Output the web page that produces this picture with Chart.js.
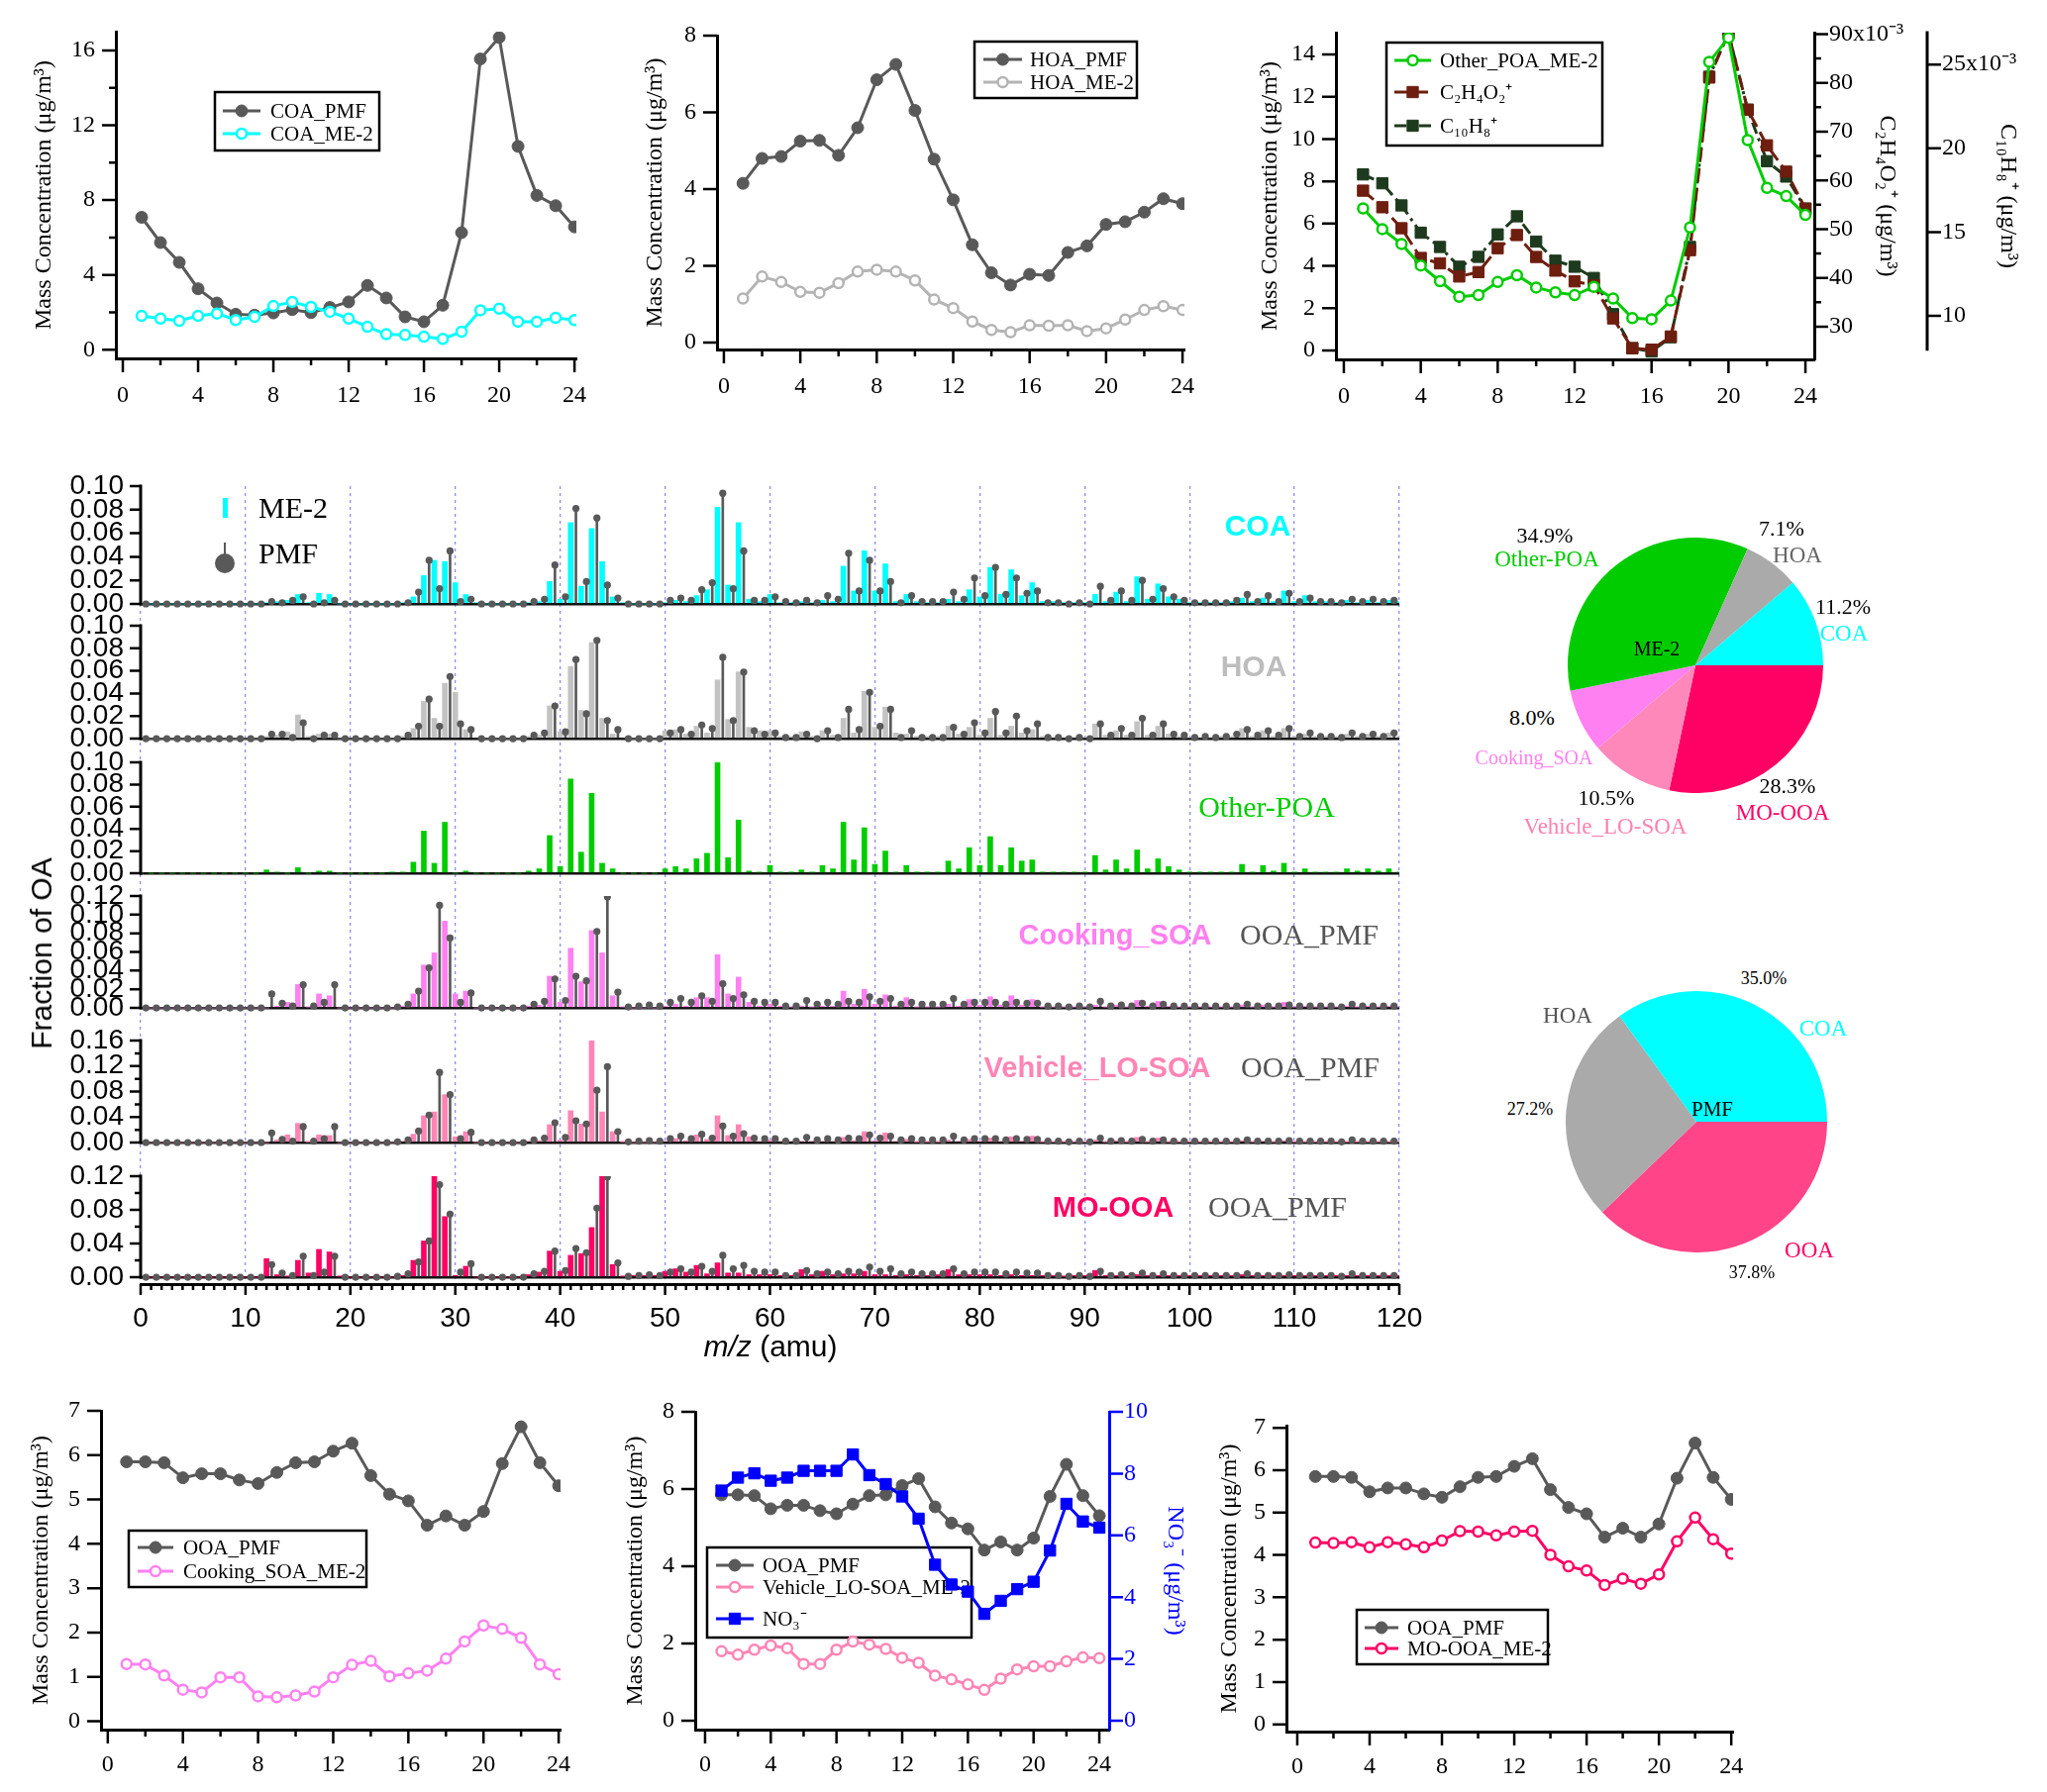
<!DOCTYPE html>
<html>
<head>
<meta charset="utf-8">
<title>OA factors: diurnal cycles, mass spectra and contributions</title>
<script src="https://cdn.jsdelivr.net/npm/chart.js@4.4.1/dist/chart.umd.min.js"></script>
<style>
  html, body { margin: 0; padding: 0; background: #fff; }
  body { position: relative; width: 2067px; height: 1810px; overflow: hidden; }
  canvas { position: absolute; }
  .note { position: absolute; transform: translate(-50%, -50%); white-space: nowrap; line-height: 1; }
  .swatch { position: absolute; }
</style>
</head>
<body>
<script>
// ---------- diurnal data (hour of day) ----------
const HOURS = [1, 2, 3, 4, 5, 6, 7, 8, 9, 10, 11, 12, 13, 14, 15, 16, 17, 18, 19, 20, 21, 22, 23, 24];
const HOUR_TICKS = [0, 4, 8, 12, 16, 20, 24];
const HOUR_MINOR = [2, 6, 10, 14, 18, 22];

const COA_PMF_DIURNAL = [7.08, 5.73, 4.67, 3.26, 2.50, 1.90, 1.85, 1.97, 2.15, 1.99, 2.26, 2.56, 3.44, 2.77, 1.76, 1.50, 2.38, 6.26, 15.54, 16.69, 10.87, 8.25, 7.70, 6.57];
const COA_ME2_DIURNAL = [1.81, 1.67, 1.55, 1.81, 1.94, 1.59, 1.76, 2.34, 2.56, 2.29, 2.03, 1.67, 1.23, 0.83, 0.79, 0.70, 0.58, 0.97, 2.11, 2.20, 1.50, 1.50, 1.71, 1.59];
const HOA_PMF_DIURNAL = [4.15, 4.80, 4.85, 5.25, 5.27, 4.88, 5.60, 6.85, 7.25, 6.05, 4.78, 3.72, 2.55, 1.82, 1.50, 1.78, 1.75, 2.35, 2.52, 3.08, 3.15, 3.40, 3.75, 3.62];
const HOA_ME2_DIURNAL = [1.15, 1.72, 1.58, 1.32, 1.30, 1.55, 1.85, 1.90, 1.85, 1.62, 1.12, 0.90, 0.55, 0.33, 0.27, 0.45, 0.44, 0.45, 0.30, 0.37, 0.60, 0.85, 0.95, 0.85];
const OTHER_POA_DIURNAL = [6.72, 5.74, 5.04, 4.02, 3.28, 2.54, 2.62, 3.24, 3.56, 2.98, 2.75, 2.62, 3.01, 2.46, 1.53, 1.48, 2.36, 5.82, 13.65, 14.79, 9.95, 7.69, 7.30, 6.41];
const C2H4O2_DIURNAL = [0.0579, 0.0545, 0.0502, 0.0441, 0.0430, 0.0403, 0.0412, 0.0461, 0.0488, 0.0443, 0.0415, 0.0393, 0.0385, 0.0317, 0.0256, 0.0253, 0.0280, 0.0457, 0.0811, 0.0902, 0.0745, 0.0672, 0.0618, 0.0542];
const C10H8_DIURNAL = [0.01844, 0.01791, 0.01659, 0.01496, 0.01411, 0.01293, 0.01352, 0.01486, 0.01594, 0.01443, 0.01329, 0.01293, 0.01226, 0.01010, 0.00807, 0.00787, 0.00872, 0.01411, 0.02427, 0.02687, 0.02230, 0.01923, 0.01831, 0.01640];
const OOA_PMF_DIURNAL = [5.85, 5.85, 5.83, 5.49, 5.58, 5.58, 5.44, 5.36, 5.61, 5.83, 5.85, 6.09, 6.27, 5.54, 5.12, 4.97, 4.42, 4.63, 4.42, 4.73, 5.81, 6.64, 5.83, 5.31];
const COOKING_SOA_DIURNAL = [1.29, 1.28, 1.03, 0.71, 0.65, 0.99, 0.99, 0.56, 0.54, 0.58, 0.67, 0.99, 1.27, 1.36, 1.01, 1.08, 1.14, 1.41, 1.80, 2.16, 2.08, 1.88, 1.28, 1.06];
const VEHICLE_SOA_DIURNAL = [1.80, 1.71, 1.84, 1.95, 1.88, 1.47, 1.47, 1.84, 2.05, 1.97, 1.86, 1.63, 1.50, 1.17, 1.07, 0.94, 0.80, 1.09, 1.33, 1.41, 1.41, 1.54, 1.64, 1.62];
const NO3_DIURNAL = [7.45, 7.87, 8.01, 7.77, 7.87, 8.09, 8.09, 8.09, 8.62, 7.95, 7.66, 7.26, 6.54, 5.05, 4.41, 4.18, 3.46, 3.88, 4.26, 4.50, 5.51, 7.02, 6.45, 6.25];
const MO_OOA_DIURNAL = [4.29, 4.28, 4.30, 4.18, 4.30, 4.25, 4.18, 4.34, 4.56, 4.55, 4.46, 4.55, 4.57, 4.00, 3.73, 3.63, 3.29, 3.44, 3.32, 3.54, 4.32, 4.88, 4.37, 4.03];

// ---------- mass spectra (m/z 0..120) ----------
const MZ = [0, 1, 2, 3, 4, 5, 6, 7, 8, 9, 10, 11, 12, 13, 14, 15, 16, 17, 18, 19, 20, 21, 22, 23, 24, 25, 26, 27, 28, 29,
  30, 31, 32, 33, 34, 35, 36, 37, 38, 39, 40, 41, 42, 43, 44, 45, 46, 47, 48, 49, 50, 51, 52, 53, 54, 55, 56, 57, 58, 59,
  60, 61, 62, 63, 64, 65, 66, 67, 68, 69, 70, 71, 72, 73, 74, 75, 76, 77, 78, 79, 80, 81, 82, 83, 84, 85, 86, 87, 88, 89,
  90, 91, 92, 93, 94, 95, 96, 97, 98, 99, 100, 101, 102, 103, 104, 105, 106, 107, 108, 109, 110, 111, 112, 113, 114, 115, 116, 117, 118, 119, 120];
const MZ_TICKS = [0, 10, 20, 30, 40, 50, 60, 70, 80, 90, 100, 110, 120];
const PMF_MZ = MZ.slice(0, 120);   // PMF sticks, drawn half a unit right of the ME-2 bars

const COA_ME2 = [0, 0, 0, 0, 0, 0, 0, 0, 0, 0,
  0, 0, 0.001, 0.002, 0.003, 0.008, 0.001, 0.009, 0.008, 0,
  0, 0, 0, 0, 0, 0.001, 0.006, 0.024, 0.037, 0.036,
  0.018, 0.008, 0.001, 0, 0, 0, 0, 0.001, 0.002, 0.019,
  0.004, 0.069, 0.015, 0.064, 0.036, 0.006, 0.001, 0, 0, 0,
  0.001, 0.003, 0.002, 0.007, 0.012, 0.082, 0.016, 0.069, 0.004, 0.002,
  0.008, 0.001, 0.001, 0.002, 0.001, 0.003, 0.002, 0.032, 0.011, 0.045,
  0.011, 0.034, 0.002, 0.008, 0.002, 0.001, 0.001, 0.004, 0.002, 0.012,
  0.006, 0.031, 0.008, 0.029, 0.007, 0.018, 0.002, 0.002, 0.001, 0.001,
  0.001, 0.008, 0.002, 0.010, 0.002, 0.023, 0.004, 0.017, 0.006, 0.004,
  0.001, 0.001, 0.001, 0.001, 0.002, 0.005, 0.002, 0.005, 0.002, 0.011,
  0.002, 0.007, 0.002, 0.002, 0.001, 0.003, 0.001, 0.003, 0.001, 0.003, 0.002];
const COA_PMF = [0, 0, 0, 0, 0, 0, 0, 0, 0, 0,
  0, 0, 0.002, 0.001, 0.003, 0.006, 0, 0.001, 0.003, 0,
  0, 0, 0, 0, 0, 0.001, 0.010, 0.037, 0.013, 0.045,
  0.002, 0.004, 0, 0, 0, 0, 0, 0.002, 0.004, 0.033,
  0.006, 0.081, 0.019, 0.073, 0.016, 0.005, 0, 0, 0, 0,
  0.003, 0.005, 0.003, 0.012, 0.018, 0.094, 0.013, 0.045, 0.003, 0.003,
  0.006, 0.002, 0.001, 0.003, 0.001, 0.007, 0.004, 0.043, 0.011, 0.037,
  0.011, 0.019, 0.001, 0.007, 0.002, 0.002, 0.002, 0.010, 0.004, 0.022,
  0.007, 0.031, 0.008, 0.022, 0.009, 0.011, 0.001, 0.001, 0, 0.001,
  0, 0.015, 0.003, 0.011, 0.003, 0.020, 0.004, 0.013, 0.006, 0.003,
  0.001, 0.001, 0.001, 0.001, 0.003, 0.008, 0.002, 0.007, 0.002, 0.009,
  0.002, 0.005, 0.002, 0.002, 0.001, 0.004, 0.002, 0.004, 0.002, 0.003];
const HOA_ME2 = [0, 0, 0, 0, 0, 0, 0, 0, 0, 0,
  0, 0, 0.002, 0.003, 0.006, 0.021, 0.002, 0.004, 0.004, 0,
  0, 0, 0, 0, 0, 0.002, 0.009, 0.033, 0.018, 0.049,
  0.041, 0.008, 0.001, 0, 0, 0, 0, 0.002, 0.003, 0.029,
  0.006, 0.064, 0.025, 0.085, 0.018, 0.004, 0.001, 0, 0, 0,
  0.007, 0.008, 0.004, 0.011, 0.005, 0.052, 0.017, 0.059, 0.010, 0.007,
  0.007, 0.002, 0.002, 0.006, 0.002, 0.007, 0.003, 0.018, 0.005, 0.042,
  0.010, 0.028, 0.005, 0.004, 0.002, 0.002, 0.002, 0.011, 0.004, 0.010,
  0.003, 0.018, 0.003, 0.011, 0.005, 0.008, 0.002, 0.001, 0.001, 0.001,
  0.001, 0.013, 0.003, 0.007, 0.003, 0.015, 0.003, 0.011, 0.004, 0.002,
  0.001, 0.001, 0.001, 0.002, 0.002, 0.009, 0.002, 0.007, 0.002, 0.009,
  0.002, 0.004, 0.002, 0.002, 0.002, 0.004, 0.002, 0.004, 0.002, 0.005, 0.002];
const HOA_PMF = [0, 0, 0, 0, 0, 0, 0, 0, 0, 0,
  0, 0, 0.004, 0.004, 0.001, 0.014, 0, 0.003, 0.003, 0,
  0, 0, 0, 0, 0, 0.003, 0.011, 0.035, 0.011, 0.055,
  0.013, 0.008, 0, 0, 0, 0, 0, 0.003, 0.005, 0.029,
  0.006, 0.070, 0.022, 0.087, 0.016, 0.008, 0, 0, 0, 0,
  0.005, 0.008, 0.004, 0.012, 0.009, 0.072, 0.016, 0.059, 0.007, 0.004,
  0.005, 0.001, 0.001, 0.004, 0, 0.007, 0.001, 0.026, 0.008, 0.041,
  0.011, 0.026, 0.001, 0.007, 0.001, 0.001, 0.001, 0.010, 0.004, 0.014,
  0.005, 0.024, 0.005, 0.020, 0.007, 0.013, 0.001, 0.001, 0, 0.001,
  0, 0.013, 0.003, 0.009, 0.003, 0.018, 0.003, 0.013, 0.004, 0.003,
  0.001, 0.002, 0.001, 0.002, 0.004, 0.008, 0.003, 0.007, 0.003, 0.009,
  0.002, 0.005, 0.002, 0.002, 0.001, 0.005, 0.002, 0.004, 0.002, 0.005];
const OTHER_POA_ME2 = [0, 0, 0, 0, 0, 0, 0, 0, 0, 0,
  0, 0, 0.003, 0.001, 0, 0.005, 0, 0.002, 0.002, 0,
  0, 0, 0, 0, 0.001, 0.001, 0.010, 0.038, 0.009, 0.046,
  0, 0.002, 0, 0, 0, 0, 0, 0.002, 0.004, 0.034,
  0.006, 0.085, 0.019, 0.072, 0.009, 0.004, 0, 0, 0, 0,
  0.004, 0.006, 0.004, 0.013, 0.018, 0.100, 0.014, 0.048, 0.002, 0.001,
  0.007, 0.001, 0.001, 0.003, 0.001, 0.007, 0.004, 0.046, 0.012, 0.041,
  0.008, 0.020, 0.001, 0.007, 0.001, 0.001, 0.001, 0.011, 0.004, 0.023,
  0.007, 0.033, 0.007, 0.023, 0.011, 0.012, 0.001, 0.001, 0.001, 0.001,
  0.001, 0.016, 0.003, 0.012, 0.004, 0.021, 0.004, 0.013, 0.006, 0.003,
  0.001, 0.001, 0.001, 0.001, 0.001, 0.008, 0.001, 0.007, 0.002, 0.009,
  0.001, 0.004, 0.001, 0.001, 0.001, 0.004, 0.002, 0.004, 0.002, 0.004, 0.001];
const OOA_PMF = [0, 0, 0, 0, 0, 0, 0, 0, 0, 0,
  0, 0, 0.015, 0.005, 0.002, 0.025, 0.002, 0.006, 0.025, 0,
  0, 0, 0, 0, 0.001, 0.004, 0.018, 0.043, 0.110, 0.075,
  0.006, 0.016, 0, 0, 0, 0, 0, 0.004, 0.007, 0.031,
  0.008, 0.034, 0.029, 0.082, 0.119, 0.017, 0.001, 0.002, 0.003, 0.002,
  0.006, 0.010, 0.006, 0.013, 0.007, 0.026, 0.010, 0.014, 0.007, 0.006,
  0.006, 0.002, 0.002, 0.008, 0.004, 0.006, 0.004, 0.007, 0.006, 0.012,
  0.007, 0.010, 0.004, 0.006, 0.004, 0.004, 0.004, 0.010, 0.004, 0.006,
  0.006, 0.006, 0.004, 0.006, 0.005, 0.005, 0.002, 0.002, 0.001, 0.002,
  0.001, 0.007, 0.002, 0.003, 0.002, 0.005, 0.002, 0.004, 0.002, 0.002,
  0.002, 0.002, 0.002, 0.002, 0.002, 0.004, 0.002, 0.002, 0.002, 0.003,
  0.002, 0.002, 0.002, 0.002, 0.001, 0.004, 0.002, 0.002, 0.002, 0.002];
const COOKING_SOA_ME2 = [0, 0, 0, 0, 0, 0, 0, 0, 0, 0,
  0, 0, 0, 0.002, 0.006, 0.025, 0.001, 0.015, 0.013, 0,
  0, 0, 0, 0, 0, 0.002, 0.015, 0.046, 0.059, 0.093,
  0.015, 0.018, 0, 0, 0, 0, 0, 0.002, 0.003, 0.034,
  0.006, 0.064, 0.028, 0.083, 0.059, 0.013, 0.001, 0, 0, 0,
  0.002, 0.004, 0.002, 0.011, 0.011, 0.057, 0.015, 0.033, 0.006, 0.002,
  0.004, 0.002, 0.001, 0.002, 0.001, 0.002, 0.002, 0.018, 0.004, 0.020,
  0.004, 0.014, 0.002, 0.011, 0.001, 0.001, 0.001, 0.004, 0.002, 0.009,
  0.003, 0.012, 0.003, 0.013, 0.003, 0.009, 0.001, 0.001, 0.001, 0.001,
  0.001, 0.003, 0.001, 0.003, 0.001, 0.008, 0.002, 0.007, 0.002, 0.001,
  0.001, 0.001, 0.001, 0.001, 0.001, 0.003, 0.001, 0.003, 0.001, 0.006,
  0.001, 0.002, 0.001, 0.001, 0.001, 0.002, 0.001, 0.002, 0.001, 0.002, 0.001];
const VEHICLE_SOA_ME2 = [0, 0, 0, 0, 0, 0, 0, 0, 0, 0,
  0, 0, 0, 0.004, 0.012, 0.030, 0.001, 0.012, 0.011, 0,
  0, 0, 0, 0, 0, 0.002, 0.013, 0.042, 0.048, 0.075,
  0.009, 0.017, 0, 0, 0, 0, 0, 0.002, 0.003, 0.028,
  0.004, 0.050, 0.029, 0.173, 0.048, 0.017, 0.001, 0, 0, 0,
  0.002, 0.006, 0.003, 0.012, 0.005, 0.042, 0.011, 0.028, 0.009, 0.002,
  0.004, 0.002, 0.002, 0.002, 0.002, 0.002, 0.002, 0.008, 0.003, 0.017,
  0.003, 0.015, 0.002, 0.005, 0.001, 0.001, 0.001, 0.004, 0.002, 0.005,
  0.002, 0.007, 0.002, 0.009, 0.002, 0.010, 0.001, 0.001, 0.001, 0.001,
  0.001, 0.004, 0.001, 0.003, 0.001, 0.008, 0.001, 0.007, 0.001, 0.001,
  0.001, 0.001, 0.001, 0.001, 0.001, 0.003, 0.001, 0.002, 0.001, 0.003,
  0.001, 0.001, 0.001, 0.001, 0.001, 0.001, 0.001, 0.001, 0.001, 0.001, 0.001];
const MO_OOA_ME2 = [0, 0, 0, 0, 0, 0, 0, 0, 0, 0,
  0, 0, 0.022, 0.003, 0.001, 0.020, 0.005, 0.033, 0.030, 0.001,
  0, 0, 0, 0, 0, 0.002, 0.020, 0.043, 0.132, 0.072,
  0.002, 0.013, 0, 0, 0, 0, 0, 0.003, 0.006, 0.031,
  0.007, 0.026, 0.028, 0.059, 0.132, 0.015, 0.001, 0.002, 0.002, 0.002,
  0.007, 0.010, 0.006, 0.014, 0.004, 0.017, 0.005, 0.005, 0.003, 0.003,
  0.003, 0.002, 0.002, 0.009, 0.003, 0.007, 0.003, 0.004, 0.004, 0.007,
  0.003, 0.003, 0.002, 0.003, 0.002, 0.002, 0.003, 0.009, 0.003, 0.003,
  0.003, 0.003, 0.002, 0.003, 0.002, 0.002, 0.002, 0.002, 0.001, 0.002,
  0.002, 0.008, 0.002, 0.002, 0.002, 0.003, 0.002, 0.002, 0.002, 0.002,
  0.002, 0.002, 0.002, 0.002, 0.002, 0.003, 0.002, 0.002, 0.002, 0.002,
  0.002, 0.002, 0.002, 0.002, 0.002, 0.002, 0.002, 0.002, 0.002, 0.002, 0.002];

// ---------- contributions (%) ----------
const ME2_PIE_LABELS = ['COA', 'HOA', 'Other-POA', 'Cooking_SOA', 'Vehicle_LO-SOA', 'MO-OOA'];
const ME2_PIE_VALUES = [11.2, 7.1, 34.9, 8.0, 10.5, 28.3];
const PMF_PIE_LABELS = ['COA', 'HOA', 'OOA'];
const PMF_PIE_VALUES = [35.0, 27.2, 37.8];

// ---------- styling ----------
const SERIF = '"Liberation Serif", "Times New Roman", serif';
const SANS = '"Liberation Sans", Arial, sans-serif';
const GREY = '#595959';
const C_COA = '#00ffff', C_HOA = '#b4b4b4', C_OTHER = '#00cc00', C_COOK = '#ff80f0',
      C_VEH = '#ff85b5', C_MO = '#ff0064', C_OOA = '#ff4488', C_NO3 = '#0000ff';
const MC_TITLE = 'Mass Concentration (\u03bcg/m\u00b3)';
const PMF_OFFSET = 0.5;

Chart.defaults.font.family = SERIF;
Chart.defaults.animation = false;
Chart.defaults.events = [];
Chart.defaults.plugins.legend.display = false;
Chart.defaults.plugins.tooltip.enabled = false;

// tick marks (major / minor) and optional axis spine, drawn from the scales
const axisMarks = {
  id: 'axisMarks',
  afterDatasetsDraw(chart, args, opts) {
    const ctx = chart.ctx;
    (opts.list || []).forEach(a => {
      const s = chart.scales[a.id];
      if (!s) return;
      ctx.save();
      ctx.strokeStyle = a.color || '#000';
      if (a.spine) {
        const x = s.position === 'left' ? s.right : s.left;
        ctx.lineWidth = 3;
        ctx.beginPath();
        ctx.moveTo(x, s.getPixelForValue(a.spine[0]) + 1.5);
        ctx.lineTo(x, s.getPixelForValue(a.spine[1]) - 1.5);
        ctx.stroke();
      }
      ctx.lineWidth = 2.5;
      ctx.beginPath();
      const mark = (v, len) => {
        const p = s.getPixelForValue(v);
        if (s.position === 'bottom') { ctx.moveTo(p, s.top); ctx.lineTo(p, s.top + len); }
        else if (s.position === 'left') { ctx.moveTo(s.right, p); ctx.lineTo(s.right - len, p); }
        else { ctx.moveTo(s.left, p); ctx.lineTo(s.left + len, p); }
      };
      (a.major || []).forEach(v => mark(v, a.long || 14));
      (a.minor || []).forEach(v => mark(v, a.short || 7));
      ctx.stroke();
      ctx.restore();
    });
  }
};

function marker(ctx, style, r, x, y) {
  ctx.beginPath();
  if (style === 'rect') { const h = r * Math.SQRT1_2; ctx.rect(x - h, y - h, 2 * h, 2 * h); }
  else ctx.arc(x, y, r, 0, Math.PI * 2);
  ctx.fill();
  ctx.stroke();
}

// boxed legend with line + marker samples taken from the datasets
const boxLegend = {
  id: 'boxLegend',
  beforeDatasetsDraw(chart, args, o) {
    if (!o.box) return;
    const ctx = chart.ctx, ox = o.origin[0], oy = o.origin[1];
    ctx.save();
    ctx.strokeStyle = '#000';
    ctx.lineWidth = 2.5;
    ctx.strokeRect(o.box[0] - ox, o.box[1] - oy, o.box[2] - o.box[0], o.box[3] - o.box[1]);
    ctx.font = '21px ' + SERIF;
    ctx.textBaseline = 'middle';
    chart.data.datasets.forEach((ds, i) => {
      const y = o.rows[i] - oy, x0 = o.sample[0] - ox, x1 = o.sample[1] - ox;
      ctx.setLineDash(ds.borderDash || []);
      ctx.strokeStyle = ds.borderColor;
      ctx.lineWidth = ds.borderWidth;
      ctx.beginPath(); ctx.moveTo(x0, y); ctx.lineTo(x1, y); ctx.stroke();
      ctx.setLineDash([]);
      ctx.fillStyle = ds.pointBackgroundColor;
      ctx.strokeStyle = ds.pointBorderColor;
      ctx.lineWidth = ds.pointBorderWidth;
      marker(ctx, ds.pointStyle, ds.pointRadius, (x0 + x1) / 2, y);
      ctx.fillStyle = '#000';
      ctx.fillText(ds.label, o.text - ox, y + 1);
    });
    ctx.restore();
  }
};
Chart.register(axisMarks, boxLegend);

function addCanvas(left, top, width, height) {
  const c = document.createElement('canvas');
  c.width = width; c.height = height;
  c.style.left = left + 'px'; c.style.top = top + 'px';
  c.style.width = width + 'px'; c.style.height = height + 'px';
  document.body.appendChild(c);
  return c;
}

// ---------- diurnal panels ----------
const filled = c => ({borderColor: c, pointBackgroundColor: c, pointBorderColor: c, pointRadius: 6, pointBorderWidth: 1, pointStyle: 'circle'});
const open = c => ({borderColor: c, pointBackgroundColor: '#fff', pointBorderColor: c, pointRadius: 5, pointBorderWidth: 2.5, pointStyle: 'circle'});
const square = (c, dash) => ({borderColor: c, pointBackgroundColor: c, pointBorderColor: c, pointRadius: 8, pointBorderWidth: 1, pointStyle: 'rect', borderDash: dash});

function line(label, values, style, order, axis) {
  return Object.assign({
    type: 'line', label, order, yAxisID: axis || 'y', borderWidth: 3, tension: 0, fill: false,
    data: HOURS.map((h, i) => ({x: h, y: values[i]}))
  }, style);
}

function yScale(a, position, width, weight) {
  const color = a.color || '#000';
  return {
    type: 'linear', position, weight, min: a.min, max: a.max,
    afterBuildTicks: s => { s.ticks = a.ticks.map(v => ({value: v})); },
    afterFit: s => { s.width = width; },
    grid: {display: false, drawTicks: false},
    border: {display: !a.spine, color, width: 3},
    ticks: {autoSkip: false, padding: a.pad || 21, color, font: {family: SERIF, size: 24}, callback: a.fmt || (v => String(v))},
    title: {display: true, text: a.title, color, font: {family: SERIF, size: 24}, padding: {top: a.titlePad || 0, bottom: 0}}
  };
}

function timeChart(cfg) {
  // top / right margins leave room for Chart.js's label overflow padding
  const p = cfg.plot, mt = 40, mb = 58, mr = 40;
  const rights = cfg.right || [];
  const rw = rights.reduce((s, r) => s + r.width, 0);
  const left = p.l - cfg.ml, top = p.t - mt;
  const canvas = addCanvas(left, top, p.r + (rw || mr) - left, p.b + mb - top);
  const scales = {
    x: {
      type: 'linear', position: 'bottom', min: cfg.x[0], max: cfg.x[1], offset: false,
      afterBuildTicks: s => { s.ticks = HOUR_TICKS.map(v => ({value: v})); },
      afterFit: s => { s.height = mb; },
      grid: {display: false, drawTicks: false},
      border: {display: true, color: '#000', width: 3},
      ticks: {autoSkip: false, maxRotation: 0, minRotation: 0, padding: cfg.xPad || 21, color: '#000', font: {family: SERIF, size: 24}}
    },
    y: yScale(cfg.y, 'left', cfg.ml, 0)
  };
  const marks = [{id: 'x', major: HOUR_TICKS, minor: HOUR_MINOR}, {id: 'y', major: cfg.y.ticks, minor: cfg.y.minor || []}];
  rights.forEach((r, i) => {
    scales['r' + i] = yScale(r, 'right', r.width, i + 1);
    marks.push({id: 'r' + i, major: r.ticks, minor: r.minor || [], color: r.color, spine: r.spine});
  });
  new Chart(canvas, {
    type: 'line',
    data: {datasets: cfg.datasets},
    options: {
      responsive: false,
      layout: {padding: {left: 0, top: mt, right: rw ? 0 : mr, bottom: 0}},
      scales,
      plugins: {axisMarks: {list: marks}, boxLegend: Object.assign({origin: [left, top]}, cfg.legend)}
    }
  });
}

const per1000 = top => v => (Math.abs(v - top) < 1e-9 ? Math.round(v * 1000) + 'x10\u207b\u00b3' : String(Math.round(v * 1000)));

timeChart({
  plot: {l: 117, t: 32, r: 582, b: 362}, ml: 87, x: [-0.37, 24.1], xPad: 23,
  y: {min: -0.46, max: 17.0, ticks: [0, 4, 8, 12, 16], minor: [2, 6, 10, 14], title: MC_TITLE},
  datasets: [line('COA_PMF', COA_PMF_DIURNAL, filled(GREY), 1), line('COA_ME-2', COA_ME2_DIURNAL, open(C_COA), 0)],
  legend: {box: [217, 93, 383, 152], rows: [112, 135], sample: [225, 263], text: 273}
});

timeChart({
  plot: {l: 724, t: 36, r: 1196, b: 353}, ml: 77, x: [-0.36, 24.1], xPad: 23,
  y: {min: -0.18, max: 8, ticks: [0, 2, 4, 6, 8], title: MC_TITLE},
  datasets: [line('HOA_PMF', HOA_PMF_DIURNAL, filled(GREY), 1), line('HOA_ME-2', HOA_ME2_DIURNAL, open(C_HOA), 0)],
  legend: {box: [984, 42, 1148, 99], rows: [60, 83], sample: [993, 1032], text: 1040}
});

timeChart({
  plot: {l: 1349, t: 33, r: 1832, b: 363}, ml: 81, x: [-0.41, 24.46], xPad: 23,
  y: {min: -0.42, max: 15.03, ticks: [0, 2, 4, 6, 8, 10, 12, 14], title: MC_TITLE},
  right: [
    {width: 114, min: 0.0233, max: 0.0903, ticks: [0.03, 0.04, 0.05, 0.06, 0.07, 0.08, 0.09],
     minor: [0.035, 0.045, 0.055, 0.065, 0.075, 0.085], title: 'C\u2082H\u2084O\u2082\u207a (\u03bcg/m\u00b3)',
     titlePad: 26, pad: 15, fmt: per1000(0.09)},
    {width: 96, min: 0.0074, max: 0.0269, ticks: [0.010, 0.015, 0.020, 0.025], spine: [0.0080, 0.0269],
     title: 'C\u2081\u2080H\u2088\u207a (\u03bcg/m\u00b3)', pad: 15, fmt: per1000(0.025)}
  ],
  datasets: [
    line('Other_POA_ME-2', OTHER_POA_DIURNAL, open(C_OTHER), 0),
    line('C\u2082H\u2084O\u2082\u207a', C2H4O2_DIURNAL, square('#6e1e0f', [14, 6]), 1, 'r0'),
    line('C\u2081\u2080H\u2088\u207a', C10H8_DIURNAL, square('#1e3a1e', [12, 5, 3, 5]), 2, 'r1')
  ],
  legend: {box: [1400, 43, 1618, 147], rows: [61, 93, 127], sample: [1408, 1445], text: 1454}
});

timeChart({
  plot: {l: 102, t: 1425, r: 566, b: 1747}, ml: 75, x: [-0.36, 24.1],
  y: {min: -0.19, max: 7.0, ticks: [0, 1, 2, 3, 4, 5, 6, 7], title: MC_TITLE},
  datasets: [line('OOA_PMF', OOA_PMF_DIURNAL, filled(GREY), 1), line('Cooking_SOA_ME-2', COOKING_SOA_DIURNAL, open(C_COOK), 0)],
  legend: {box: [130, 1546, 370, 1603], rows: [1563, 1587], sample: [139, 175], text: 185}
});

timeChart({
  plot: {l: 702, t: 1426, r: 1120, b: 1747}, ml: 75, x: [-0.6, 24.6],
  y: {min: -0.23, max: 8.0, ticks: [0, 2, 4, 6, 8], title: MC_TITLE},
  right: [{width: 81, min: -0.2875, max: 10, ticks: [0, 2, 4, 6, 8, 10], color: C_NO3, pad: 15,
           title: 'NO\u2083\u207b (\u03bcg/m\u00b3)'}],
  datasets: [
    line('OOA_PMF', OOA_PMF_DIURNAL, filled(GREY), 2),
    line('Vehicle_LO-SOA_ME-2', VEHICLE_SOA_DIURNAL, open(C_VEH), 1),
    line('NO\u2083\u207b', NO3_DIURNAL, square(C_NO3, []), 0, 'r0')
  ],
  legend: {box: [714, 1563, 981, 1654], rows: [1581, 1603, 1635], sample: [723, 761], text: 770}
});

timeChart({
  plot: {l: 1299, t: 1440, r: 1750, b: 1749}, ml: 72, x: [-0.6, 24.1],
  y: {min: -0.17, max: 7.05, ticks: [0, 1, 2, 3, 4, 5, 6, 7], title: MC_TITLE},
  datasets: [line('OOA_PMF', OOA_PMF_DIURNAL, filled(GREY), 1), line('MO-OOA_ME-2', MO_OOA_DIURNAL, open(C_MO), 0)],
  legend: {box: [1370, 1626, 1563, 1681], rows: [1644, 1665], sample: [1378, 1412], text: 1421}
});

// ---------- stacked mass spectra ----------
const SPECTRA = [
  {me2: COA_ME2, pmf: COA_PMF, color: C_COA, height: 141, min: -0.0185, max: 0.10, ticks: [0, 0.02, 0.04, 0.06, 0.08, 0.10]},
  {me2: HOA_ME2, pmf: HOA_PMF, color: '#c3c3c3', height: 138, min: -0.021, max: 0.10, ticks: [0, 0.02, 0.04, 0.06, 0.08, 0.10]},
  {me2: OTHER_POA_ME2, pmf: null, color: C_OTHER, height: 135, min: -0.0205, max: 0.10, ticks: [0, 0.02, 0.04, 0.06, 0.08, 0.10]},
  {me2: COOKING_SOA_ME2, pmf: OOA_PMF, color: C_COOK, height: 146, min: -0.035, max: 0.12, ticks: [0, 0.02, 0.04, 0.06, 0.08, 0.10, 0.12]},
  {me2: VEHICLE_SOA_ME2, pmf: OOA_PMF, color: C_VEH, height: 137, min: -0.0528, max: 0.16, ticks: [0, 0.04, 0.08, 0.12, 0.16], minor: [0.02, 0.06, 0.10, 0.14]},
  {me2: MO_OOA_ME2, pmf: OOA_PMF, color: C_MO, height: 109, min: -0.0082, max: 0.12, ticks: [0, 0.04, 0.08, 0.12], minor: [0.02, 0.06, 0.10]}
];
(function spectraChart() {
  const P = {l: 142, t: 491, r: 1413, b: 1297, ml: 90, mt: 38, mr: 48, mb: 60};
  const left = P.l - P.ml, top = P.t - P.mt;
  const canvas = addCanvas(left, top, P.r + P.mr - left, P.b + P.mb - top);
  const scales = {
    x: {
      type: 'linear', position: 'bottom', min: 0, max: 120, offset: false,
      afterBuildTicks: s => { s.ticks = MZ_TICKS.map(v => ({value: v})); },
      afterFit: s => { s.height = P.mb; },
      grid: {display: true, drawTicks: false, offset: false, color: '#8e8ef0', lineWidth: 1.3},
      border: {display: true, color: '#000', width: 3, dash: [3, 4]},
      ticks: {autoSkip: false, maxRotation: 0, minRotation: 0, padding: 18, color: '#000', font: {family: SANS, size: 28}}
    }
  };
  const marks = [{id: 'x', major: MZ_TICKS, minor: MZ.filter(m => m % 10 !== 0), long: 11, short: 6}];
  const datasets = [];
  SPECTRA.forEach((p, i) => {
    const id = 'p' + i;
    scales[id] = {
      type: 'linear', position: 'left', stack: 'ms', stackWeight: p.height, weight: SPECTRA.length - i,
      min: p.min, max: p.max,
      afterBuildTicks: s => { s.ticks = p.ticks.map(v => ({value: v})); },
      afterFit: s => { s.width = P.ml; },
      grid: {display: true, drawTicks: false, lineWidth: 2.5,
             color: c => (c.tick && c.tick.value === 0) ? '#111' : 'rgba(0,0,0,0)'},
      border: {display: false},
      ticks: {autoSkip: false, padding: 17, color: '#000', font: {family: SANS, size: 28}, callback: v => v.toFixed(2)}
    };
    marks.push({id, major: p.ticks, minor: p.minor || [], long: 11, short: 6, spine: [0, p.ticks[p.ticks.length - 1]]});
    datasets.push({type: 'bar', yAxisID: id, order: 2, grouped: false, barThickness: 5, backgroundColor: p.color,
                   data: MZ.map((m, j) => ({x: m, y: p.me2[j]}))});
    if (p.pmf) {
      const pts = PMF_MZ.map((m, j) => ({x: m + PMF_OFFSET, y: p.pmf[j]}));
      datasets.push({type: 'bar', yAxisID: id, order: 1, grouped: false, barThickness: 2, backgroundColor: GREY, data: pts});
      datasets.push({type: 'scatter', yAxisID: id, order: 0, pointRadius: 3.6, pointBorderWidth: 0,
                     pointBackgroundColor: GREY, data: pts});
    }
  });
  new Chart(canvas, {
    type: 'bar',
    data: {datasets},
    options: {
      responsive: false,
      layout: {padding: {left: 0, top: P.mt, right: P.mr, bottom: 0}},
      scales,
      plugins: {axisMarks: {list: marks}}
    }
  });
})();

// ---------- pies (drawn counter-clockwise from 3 o'clock) ----------
function pieChart(cx, cy, r, values, colors, labels) {
  const canvas = addCanvas(cx - r, cy - r, 2 * r, 2 * r);
  new Chart(canvas, {
    type: 'pie',
    data: {labels: labels.slice().reverse(),
           datasets: [{data: values.slice().reverse(), backgroundColor: colors.slice().reverse(),
                       borderWidth: 0, hoverOffset: 0, offset: 0}]},
    options: {responsive: false, rotation: 90, layout: {padding: 0}}
  });
}
pieChart(1712, 672, 129, ME2_PIE_VALUES, [C_COA, '#aaaaaa', C_OTHER, C_COOK, '#ff88bb', C_MO], ME2_PIE_LABELS);
pieChart(1713, 1133, 132, PMF_PIE_VALUES, [C_COA, '#aaaaaa', C_OOA], PMF_PIE_LABELS);

// ---------- text ----------
const pct = v => v.toFixed(1) + '%';
const NOTES = [
  ['COA', 1270, 531, 30, C_COA, SANS, 'bold'],
  ['HOA', 1266, 673, 30, '#bdbdbd', SANS, 'bold'],
  ['Other-POA', 1279, 815, 30, C_OTHER, SERIF, 'normal'],
  ['Cooking_SOA', 1126, 944, 29, C_COOK, SANS, 'bold'],
  ['OOA_PMF', 1322, 944, 30, '#555', SERIF, 'normal'],
  ['Vehicle_LO-SOA', 1108, 1078, 29, C_VEH, SANS, 'bold'],
  ['OOA_PMF', 1323, 1078, 30, '#555', SERIF, 'normal'],
  ['MO-OOA', 1124, 1219, 29, C_MO, SANS, 'bold'],
  ['OOA_PMF', 1290, 1219, 30, '#555', SERIF, 'normal'],
  ['ME-2', 296, 513, 30, '#000', SERIF, 'normal'],
  ['PMF', 291, 559, 30, '#000', SERIF, 'normal'],
  // ME-2 pie
  [pct(ME2_PIE_VALUES[2]), 1560, 541, 22, '#000', SERIF, 'normal'],
  [ME2_PIE_LABELS[2], 1562, 564, 23, C_OTHER, SERIF, 'normal'],
  [pct(ME2_PIE_VALUES[1]), 1799, 534, 22, '#000', SERIF, 'normal'],
  [ME2_PIE_LABELS[1], 1815, 560, 23, '#666', SERIF, 'normal'],
  [pct(ME2_PIE_VALUES[0]), 1861, 613, 22, '#000', SERIF, 'normal'],
  [ME2_PIE_LABELS[0], 1862, 639, 23, C_COA, SERIF, 'normal'],
  ['ME-2', 1673, 655, 20, '#000', SERIF, 'normal'],
  [pct(ME2_PIE_VALUES[3]), 1547, 725, 22, '#000', SERIF, 'normal'],
  [ME2_PIE_LABELS[3], 1549, 765, 20, C_COOK, SERIF, 'normal'],
  [pct(ME2_PIE_VALUES[4]), 1622, 806, 22, '#000', SERIF, 'normal'],
  [ME2_PIE_LABELS[4], 1621, 834, 23, '#ff80b0', SERIF, 'normal'],
  [pct(ME2_PIE_VALUES[5]), 1805, 794, 22, '#000', SERIF, 'normal'],
  [ME2_PIE_LABELS[5], 1800, 820, 23, C_MO, SERIF, 'normal'],
  // PMF pie
  [pct(PMF_PIE_VALUES[0]), 1781, 988, 18, '#000', SERIF, 'normal'],
  [PMF_PIE_LABELS[1], 1583, 1025, 23, '#555', SERIF, 'normal'],
  [PMF_PIE_LABELS[0], 1841, 1038, 23, C_COA, SERIF, 'normal'],
  [pct(PMF_PIE_VALUES[1]), 1545, 1120, 18, '#000', SERIF, 'normal'],
  ['PMF', 1729, 1120, 21, '#000', SERIF, 'normal'],
  [PMF_PIE_LABELS[2], 1827, 1262, 23, C_MO, SERIF, 'normal'],
  [pct(PMF_PIE_VALUES[2]), 1769, 1285, 18, '#000', SERIF, 'normal']
];
NOTES.forEach(([text, x, y, size, color, family, weight]) => {
  const d = document.createElement('div');
  d.className = 'note';
  d.textContent = text;
  Object.assign(d.style, {left: x + 'px', top: y + 'px', fontSize: size + 'px', color, fontFamily: family, fontWeight: weight});
  document.body.appendChild(d);
});

const yTitle = document.createElement('div');
yTitle.className = 'note';
yTitle.textContent = 'Fraction of OA';
Object.assign(yTitle.style, {left: '42px', top: '963px', fontSize: '30px', fontFamily: SANS,
  transform: 'translate(-50%, -50%) rotate(-90deg)'});
document.body.appendChild(yTitle);

const xTitle = document.createElement('div');
xTitle.className = 'note';
xTitle.innerHTML = '<i>m/z</i> (amu)';
Object.assign(xTitle.style, {left: '778px', top: '1360px', fontSize: '30px', fontFamily: SANS});
document.body.appendChild(xTitle);

// ME-2 / PMF key swatches for the spectra
[[225, 503, 5, 20, C_COA, '0'], [226, 548, 2, 14, GREY, '0'], [217, 559, 20, 20, GREY, '50%']].forEach(([x, y, w, h, bg, rad]) => {
  const s = document.createElement('div');
  s.className = 'swatch';
  Object.assign(s.style, {left: x + 'px', top: y + 'px', width: w + 'px', height: h + 'px', background: bg, borderRadius: rad});
  document.body.appendChild(s);
});
</script>
</body>
</html>
